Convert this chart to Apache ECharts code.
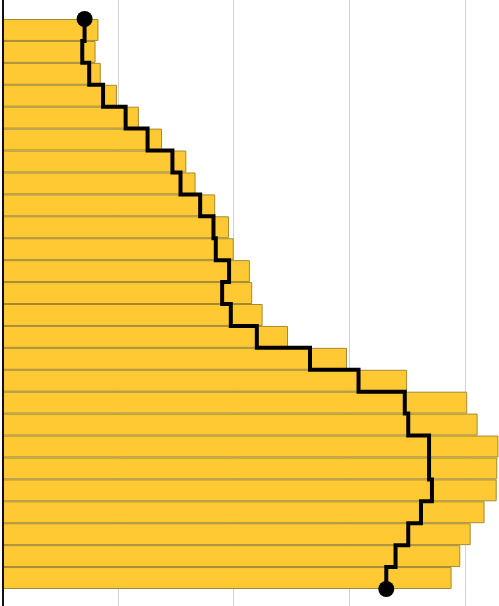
<!DOCTYPE html>
<html>
<head>
<meta charset="utf-8">
<script src="https://cdn.jsdelivr.net/npm/echarts@6/dist/echarts.min.js"></script>
<style>html,body{margin:0;padding:0;background:#fff;}#c{width:499px;height:606px;}</style>
</head>
<body>
<div id="c"></div>
<script>
var categories = ['1','2','3','4','5','6','7','8','9','10','11','12','13','14','15','16','17','18','19','20','21','22','23','24','25','26'];
var barValues = [8.3, 8.05, 8.5, 9.9, 11.8, 13.8, 15.9, 16.7, 18.4, 19.6, 20.0, 21.4, 21.6, 22.5, 24.7, 29.8, 35.0, 40.2, 41.1, 42.9, 42.8, 42.75, 41.7, 40.5, 39.6, 38.85];
var lineValues = [7.1, 6.9, 7.5, 8.7, 10.65, 12.55, 14.7, 15.4, 17.1, 18.25, 18.45, 19.6, 19.0, 19.75, 22.0, 26.6, 30.8, 34.8, 35.1, 36.9, 36.9, 37.15, 36.2, 35.1, 34.0, 33.2];
var xTickInterval = 10;

var stepData = [];
lineValues.forEach(function (v, i) {
  stepData.push([v, i]);
  stepData.push([v, i + 1]);
});
var lastIdx = stepData.length - 1;

var chart = echarts.init(document.getElementById('c'), null, {renderer: 'canvas'});
chart.setOption({
  animation: false,
  grid: [
    {left: 2.5, right: 0, top: 19, bottom: 17},
    {left: 2.5, right: 0, top: 0, bottom: 0}
  ],
  xAxis: [
    {gridIndex: 0, type: 'value', min: 0, max: 42.95, interval: xTickInterval,
     axisLine: {show: false}, axisTick: {show: false}, axisLabel: {show: false}, splitLine: {show: false}},
    {gridIndex: 1, type: 'value', min: 0, max: 42.95, interval: xTickInterval,
     axisLine: {show: false}, axisTick: {show: false}, axisLabel: {show: false},
     splitLine: {show: true, showMaxLine: false, lineStyle: {color: '#d2d2d2', width: 1}}}
  ],
  yAxis: [
    {gridIndex: 0, type: 'category', data: categories, inverse: true,
     axisLine: {show: false}, axisTick: {show: false}, axisLabel: {show: false}, splitLine: {show: false}},
    {gridIndex: 0, type: 'value', min: 0, max: categories.length, inverse: true, show: false},
    {gridIndex: 1, type: 'value', min: 0, max: 1, z: 10,
     axisLine: {show: true, lineStyle: {color: '#111', width: 2}},
     axisTick: {show: false}, axisLabel: {show: false}, splitLine: {show: false}}
  ],
  series: [
    {type: 'bar', xAxisIndex: 0, yAxisIndex: 0, data: barValues,
     barWidth: '100%', barCategoryGap: 0,
     itemStyle: {color: '#FFC933', borderColor: '#A38B34', borderWidth: 1}},
    {type: 'line', xAxisIndex: 0, yAxisIndex: 1, data: stepData, z: 5,
     showSymbol: true, symbol: 'circle',
     symbolSize: function (val, params) { return (params.dataIndex === 0 || params.dataIndex === lastIdx) ? 16 : 0; },
     itemStyle: {color: '#000'},
     lineStyle: {color: '#000', width: 4, join: 'miter', cap: 'butt'},
     clip: false}
  ]
});
</script>
</body>
</html>
